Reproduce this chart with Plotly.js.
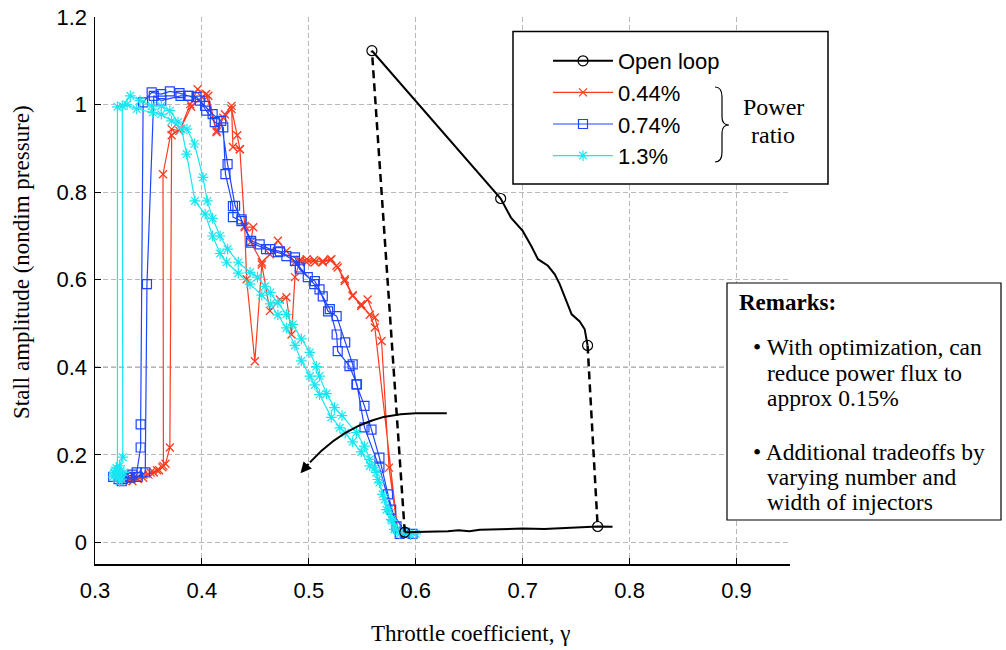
<!DOCTYPE html>
<html>
<head>
<meta charset="utf-8">
<script src="https://cdn.plot.ly/plotly-3.0.1.min.js"></script>
<style>html,body{margin:0;padding:0;background:#fff;}#chart{width:1006px;height:650px;}</style>
</head>
<body>
<div id="chart"></div>
<script>
// ---------------- data ----------------
// Open loop: stalled branch (solid), recovered branch (solid)
const olStallX = [0.559, 0.6794, 0.689, 0.700, 0.708, 0.7143, 0.7236, 0.730, 0.7346, 0.7458, 0.7533, 0.758, 0.7607];
const olStallY = [1.123, 0.7856, 0.742, 0.7116, 0.677, 0.647, 0.632, 0.6126, 0.590, 0.521, 0.505, 0.487, 0.450];
const olStallCircles = [0, 1, 12];
const olRecX = [0.5897, 0.600, 0.610, 0.620, 0.630, 0.640, 0.650, 0.660, 0.670, 0.680, 0.700, 0.720, 0.740, 0.750, 0.760, 0.7701, 0.784];
const olRecY = [0.0236, 0.024, 0.024, 0.025, 0.026, 0.028, 0.026, 0.029, 0.030, 0.031, 0.032, 0.031, 0.033, 0.033, 0.034, 0.0366, 0.036];
const olRecCircles = [0, 15];

// 0.44% power ratio
const redX = [0.592,0.583,0.5617,0.557,0.549,0.541,0.5336,0.527,0.521,0.513,0.5056,0.498,0.4916,0.487,0.4838,0.479,0.4729,0.4636,0.456,0.4495,0.4418,0.440,0.4355,0.429,0.4277,0.4215,0.4137,0.404,0.396,0.389,0.379,0.3717,0.3636,0.364,0.360,0.355,0.350,0.345,0.340,0.335,0.330,0.325,0.322,
              0.328,0.337,0.345,0.352,0.358,0.363,0.366,0.370,0.3717,0.380,0.390,0.400,0.406,0.4137,0.420,0.4277,0.433,0.4355,0.440,0.448,0.4455,0.456,0.4636,0.471,0.479,0.487,0.4916,0.498,0.505,0.513,0.520,0.5258,0.5336,0.541,0.549,0.555,0.5617,0.568,0.575,0.583,0.590];
const redY = [0.020,0.030,0.491,0.520,0.544,0.563,0.597,0.628,0.647,0.643,0.640,0.647,0.643,0.606,0.475,0.560,0.555,0.529,0.635,0.414,0.601,0.723,0.898,0.903,0.997,0.978,0.937,1.024,1.035,1.001,0.940,0.944,0.841,0.175,0.165,0.160,0.155,0.148,0.145,0.140,0.142,0.145,0.150,
              0.148,0.150,0.155,0.160,0.165,0.172,0.180,0.217,0.930,0.945,0.995,1.017,1.020,0.940,0.970,0.990,0.930,0.898,0.720,0.720,0.686,0.640,0.658,0.689,0.666,0.640,0.645,0.640,0.645,0.640,0.645,0.632,0.601,0.565,0.540,0.555,0.514,0.460,0.171,0.030,0.022];

// 0.74% power ratio
const blueX = [0.322,0.317,0.325,0.330,0.335,0.339,0.3427,0.3427,0.345,0.353,0.362,0.370,0.379,0.387,0.395,0.403,0.410,0.418,0.424,0.431,0.437,0.446,0.454,0.4636,0.473,0.479,0.487,0.4916,0.499,0.5056,0.510,0.518,0.526,0.534,0.541,0.5445,0.552,0.5586,0.566,0.574,0.582,0.585,0.597,
               0.590,0.577,0.566,0.552,0.545,0.538,0.527,0.526,0.5196,0.513,0.505,0.4916,0.487,0.471,0.460,0.446,0.437,0.429,0.429,0.422,0.420,0.412,0.404,0.398,0.388,0.380,0.362,0.355,0.3486,0.347,0.340,0.333,0.326];
const blueY = [0.145,0.150,0.140,0.150,0.155,0.160,0.217,0.270,1.005,1.028,1.024,1.030,1.026,1.020,1.017,0.997,0.978,0.963,0.864,0.769,0.738,0.689,0.681,0.670,0.665,0.654,0.643,0.624,0.606,0.597,0.578,0.528,0.517,0.457,0.407,0.361,0.312,0.258,0.194,0.110,0.037,0.020,0.020,
               0.022,0.075,0.171,0.263,0.361,0.403,0.437,0.475,0.533,0.562,0.590,0.628,0.651,0.663,0.670,0.685,0.734,0.743,0.768,0.841,0.948,0.960,0.986,1.009,1.020,1.020,1.009,1.020,0.590,0.160,0.150,0.148,0.145];

// 1.3% power ratio
const cyanX = [0.322,0.318,0.325,0.320,0.327,0.323,0.326,0.3255,0.333,0.342,0.353,0.362,0.370,0.3776,0.386,0.393,0.401,0.405,0.410,0.417,0.424,0.434,0.445,0.452,0.459,0.464,0.471,0.479,0.485,0.493,0.501,0.507,0.510,0.5165,0.524,0.531,0.5445,0.552,0.557,0.5617,0.5645,0.569,0.5726,0.577,0.580,0.585,0.595,0.600,
               0.590,0.582,0.578,0.575,0.571,0.566,0.563,0.557,0.549,0.541,0.534,0.529,0.521,0.510,0.5056,0.501,0.493,0.487,0.479,0.471,0.464,0.456,0.445,0.434,0.423,0.417,0.410,0.403,0.3935,0.3857,0.381,0.3716,0.362,0.354,0.339,0.330,0.321,0.321,0.317,0.323,0.319,0.324];
const cyanY = [0.150,0.160,0.145,0.170,0.160,0.175,0.195,0.997,1.020,1.009,0.997,0.997,0.986,0.960,0.944,0.910,0.834,0.780,0.740,0.700,0.670,0.640,0.617,0.606,0.585,0.571,0.548,0.521,0.498,0.465,0.434,0.402,0.380,0.340,0.308,0.290,0.251,0.220,0.190,0.171,0.144,0.110,0.075,0.053,0.030,0.020,0.018,0.020,
               0.025,0.030,0.050,0.075,0.098,0.137,0.160,0.175,0.207,0.230,0.250,0.262,0.286,0.338,0.360,0.380,0.415,0.450,0.490,0.520,0.545,0.565,0.590,0.615,0.640,0.660,0.700,0.750,0.780,0.887,0.944,0.963,0.978,0.982,0.990,1.000,0.995,0.160,0.150,0.140,0.165,0.155];

const seriesNames = ["Open loop", "0.44%", "0.74%", "1.3%"];
const xTickVals = [0.3, 0.4, 0.5, 0.6, 0.7, 0.8, 0.9];
const yTickVals = [0, 0.2, 0.4, 0.6, 0.8, 1, 1.2];
const remarksLines = ["• With optimization, can", "reduce power flux to", "approx 0.15%", "• Additional tradeoffs by", "varying number and", "width of injectors"];

// ---------------- styling helpers ----------------
const RED = '#ff3b1f', BLUE = '#1e45ff', CYAN = '#19e6f2';
const SANS = 'Liberation Sans, Arial, Helvetica, sans-serif';
const SERIF = 'Liberation Serif, Times New Roman, Times, serif';
const L = 95, R = 216, T = 17, B = 86, W = 1006, H = 650;
const pw = W - L - R, ph = H - T - B;
const pxX = p => (p - L) / pw;          // pixel -> paper x
const pxY = p => (H - B - p) / ph;      // pixel -> paper y

function circleColors(n, idx) {
  const c = [];
  for (let i = 0; i < n; i++) c.push(idx.includes(i) ? '#000' : 'rgba(0,0,0,0)');
  return c;
}

// dashed jumps of open loop, built from the branch arrays
const jumpX = [olStallX[olStallX.length - 1], olRecX[olRecCircles[1]], null, olRecX[0], olStallX[0]];
const jumpY = [olStallY[olStallY.length - 1], olRecY[olRecCircles[1]], null, olRecY[0], olStallY[0]];

const traces = [
  {x: redX, y: redY, name: seriesNames[1], legendrank: 2, mode: 'lines+markers', type: 'scatter',
   line: {color: RED, width: 1.2}, marker: {symbol: 'x-thin-open', size: 8, color: RED, line: {width: 1.3, color: RED}}},
  {x: blueX, y: blueY, name: seriesNames[2], legendrank: 3, mode: 'lines+markers', type: 'scatter',
   line: {color: BLUE, width: 1.2}, marker: {symbol: 'square-open', size: 9, color: BLUE, line: {width: 1.2}}},
  {x: cyanX, y: cyanY, name: seriesNames[3], legendrank: 4, mode: 'lines+markers', type: 'scatter',
   line: {color: CYAN, width: 1.2}, marker: {symbol: 'asterisk-open', size: 9, color: CYAN, line: {width: 1.2, color: CYAN}}},
  {x: jumpX, y: jumpY, showlegend: false, mode: 'lines', type: 'scatter', hoverinfo: 'skip',
   line: {color: '#000', width: 2.5, dash: '8px,5px'}},
  {x: olRecX, y: olRecY, showlegend: false, mode: 'lines+markers', type: 'scatter',
   line: {color: '#000', width: 2}, marker: {symbol: 'circle-open', size: 10, color: circleColors(olRecX.length, olRecCircles), line: {width: 1.2}}},
  {x: olStallX, y: olStallY, name: seriesNames[0], legendrank: 1, mode: 'lines+markers', type: 'scatter',
   line: {color: '#000', width: 2}, marker: {symbol: 'circle-open', size: 10, color: circleColors(olStallX.length, olStallCircles), line: {width: 1.2}}}
];

const annotations = [
  {xref: 'paper', yref: 'paper', x: pxX(470), y: pxY(633), text: 'Throttle coefficient, γ', showarrow: false,
   xanchor: 'center', yanchor: 'middle', font: {family: SERIF, size: 23, color: '#000'}},
  {xref: 'paper', yref: 'paper', x: pxX(21), y: pxY(262), text: 'Stall amplitude (nondim pressure)', showarrow: false,
   textangle: -90, xanchor: 'center', yanchor: 'middle', font: {family: SERIF, size: 23, color: '#000'}},
  {xref: 'paper', yref: 'paper', x: pxX(773), y: pxY(107), text: 'Power', showarrow: false,
   xanchor: 'center', yanchor: 'middle', font: {family: SERIF, size: 24, color: '#000'}},
  {xref: 'paper', yref: 'paper', x: pxX(773), y: pxY(135), text: 'ratio', showarrow: false,
   xanchor: 'center', yanchor: 'middle', font: {family: SERIF, size: 24, color: '#000'}},
  {xref: 'paper', yref: 'paper', x: pxX(737), y: pxY(302), text: '<b>Remarks:</b>', showarrow: false,
   xanchor: 'left', yanchor: 'middle', font: {family: SERIF, size: 23, color: '#000'}},
  // arrow head of the curved arrow
  {xref: 'x', yref: 'y', axref: 'x', ayref: 'y', x: 0.4922, y: 0.158, ax: 0.501, ay: 0.183, text: '',
   showarrow: true, arrowhead: 2, arrowsize: 1.1, arrowwidth: 2, arrowcolor: '#000', standoff: 0}
];
const remarkY = [347, 373, 398, 452, 477, 502];
const remarkX = [751, 765, 765, 751, 765, 765];
remarksLines.forEach((t, i) => annotations.push({
  xref: 'paper', yref: 'paper', x: pxX(remarkX[i]), y: pxY(remarkY[i]), text: t, showarrow: false,
  xanchor: 'left', yanchor: 'middle', font: {family: SERIF, size: 23.5, color: '#000'}
}));

// brace path (pixel -> paper)
function P(x, y) { return pxX(x).toFixed(5) + ',' + pxY(y).toFixed(5); }
const bracePath = 'M' + P(715, 87) + ' Q' + P(722, 87) + ' ' + P(722, 97) +
  ' L' + P(722, 117) + ' Q' + P(722, 125) + ' ' + P(729, 125) +
  ' Q' + P(722, 125) + ' ' + P(722, 133) + ' L' + P(722, 152) +
  ' Q' + P(722, 162) + ' ' + P(715, 162);

const shapes = [
  {type: 'line', xref: 'x', yref: 'y', x0: 0.3, x1: 0.95, y0: 0.4, y1: 0.4, layer: 'below',
   line: {color: '#444', width: 1.3, dash: '5px,3px'}},
  {type: 'path', xref: 'x', yref: 'y', layer: 'above',
   path: 'M 0.629,0.295 L 0.600,0.295 C 0.565,0.294 0.530,0.260 0.501,0.183',
   line: {color: '#000', width: 2}},
  {type: 'rect', xref: 'paper', yref: 'paper', x0: pxX(513), x1: pxX(828), y0: pxY(184), y1: pxY(31.5), layer: 'above',
   fillcolor: '#fff', line: {color: '#000', width: 1.5}},
  {type: 'rect', xref: 'paper', yref: 'paper', x0: pxX(727), x1: pxX(1001), y0: pxY(520), y1: pxY(283), layer: 'above',
   fillcolor: '#fff', line: {color: '#000', width: 1.2}},
  {type: 'path', xref: 'paper', yref: 'paper', layer: 'above', path: bracePath, line: {color: '#000', width: 1.2}}
];

const axisCommon = {
  showline: true, linecolor: '#000', linewidth: 1.5, mirror: false,
  ticks: 'inside', ticklen: 6, tickwidth: 1, tickcolor: '#000',
  showgrid: true, gridcolor: '#b8b8b8', gridwidth: 1, griddash: '5px,3px',
  zeroline: false, tickfont: {family: SANS, size: 22, color: '#000'}
};

const layout = {
  width: W, height: H, margin: {l: L, r: R, t: T, b: B},
  paper_bgcolor: '#fff', plot_bgcolor: '#fff', showlegend: true,
  xaxis: Object.assign({}, axisCommon, {range: [0.3, 0.95], tickvals: xTickVals, ticktext: xTickVals.map(v => v.toFixed(1)), ticklabelstandoff: 6}),
  yaxis: Object.assign({}, axisCommon, {range: [-0.049, 1.2], tickvals: yTickVals, ticklabelstandoff: 2}),
  legend: {x: pxX(548), xanchor: 'left', y: pxY(40), yanchor: 'top', bgcolor: 'rgba(0,0,0,0)', borderwidth: 0,
           font: {family: SANS, size: 22, color: '#000'}, itemwidth: 60, tracegroupgap: 0},
  shapes: shapes, annotations: annotations
};

Plotly.newPlot('chart', traces, layout, {displayModeBar: false, staticPlot: true});
</script>
</body>
</html>
